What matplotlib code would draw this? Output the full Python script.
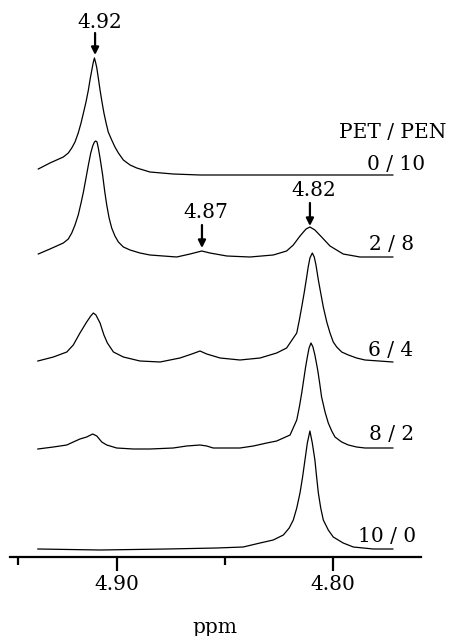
import matplotlib
matplotlib.use('Agg')
import matplotlib.pyplot as plt # Графики

plt.rcParams['font.family'] = ['DejaVu Serif']

# Подписи спектров (сверху вниз) и сдвиги базовых линий
labels = ['0 / 10', '2 / 8', '6 / 4', '8 / 2', '10 / 0']
offsets = [374, 292, 187, 101, 0]

# Спектры: ppm и интенсивность
ppm_0_10 = [4.9363, 4.9309, 4.9247, 4.9224, 4.9208, 4.9193, 4.9178, 4.9165, 4.9154, 4.9142,
            4.9131, 4.9122, 4.9115, 4.9109, 4.9103, 4.9097, 4.9092, 4.9085, 4.9077, 4.9068,
            4.9059, 4.9049, 4.9039, 4.9023, 4.9008, 4.8992, 4.8969, 4.8938, 4.8907, 4.8846,
            4.8738, 4.8614, 4.8383, 4.8151, 4.7721]
int_0_10 = [6, 12, 18, 22, 27, 33, 42, 52, 62, 73,
            85, 97, 105, 112, 117, 112, 107, 97, 85, 73,
            62, 52, 43, 35, 28, 22, 15, 10, 7, 3,
            1, 0, 0, 0, 0]

ppm_2_8 = [4.9363, 4.9309, 4.9247, 4.9224, 4.9208, 4.9193, 4.9178, 4.9165, 4.9154, 4.9142,
           4.9131, 4.9120, 4.9111, 4.9103, 4.9097, 4.9091, 4.9085, 4.9077, 4.9065, 4.9055,
           4.9046, 4.9035, 4.9023, 4.9008, 4.8992, 4.8969, 4.8938, 4.8892, 4.8846, 4.8722,
           4.8660, 4.8606, 4.8568, 4.8490, 4.8383, 4.8275, 4.8213, 4.8182, 4.8151, 4.8123,
           4.8105, 4.8082, 4.8051, 4.8012, 4.7951, 4.7873, 4.7721]
int_2_8 = [3, 8, 14, 18, 24, 32, 42, 54, 65, 79,
           92, 104, 111, 115, 116, 115, 109, 99, 82, 65,
           52, 39, 29, 21, 15, 10, 7, 4, 2, 0,
           3, 6, 4, 1, 0, 2, 6, 12, 21, 28,
           30, 27, 20, 11, 3, 0, 0]

ppm_6_4 = [4.9365, 4.9293, 4.9231, 4.9201, 4.9170, 4.9139, 4.9120, 4.9108, 4.9096, 4.9077,
           4.9059, 4.9043, 4.9015, 4.8969, 4.8892, 4.8799, 4.8707, 4.8652, 4.8614, 4.8583,
           4.8521, 4.8429, 4.8336, 4.8259, 4.8213, 4.8166, 4.8154, 4.8143, 4.8131, 4.8120,
           4.8113, 4.8105, 4.8094, 4.8085, 4.8077, 4.8066, 4.8055, 4.8043, 4.8027, 4.8012,
           4.7997, 4.7981, 4.7958, 4.7927, 4.7889, 4.7850, 4.7721]
int_6_4 = [1, 5, 10, 17, 29, 40, 46, 49, 47, 39,
           27, 19, 10, 5, 1, 0, 4, 8, 11, 8,
           4, 2, 4, 9, 14, 29, 42, 55, 70, 85,
           95, 104, 109, 105, 97, 82, 69, 55, 40, 29,
           20, 15, 10, 7, 4, 2, 0]

ppm_8_2 = [4.9365, 4.9293, 4.9231, 4.9201, 4.9170, 4.9139, 4.9111, 4.9092, 4.9069, 4.9046,
           4.9000, 4.8923, 4.8846, 4.8738, 4.8676, 4.8614, 4.8583, 4.8553, 4.8490, 4.8429,
           4.8367, 4.8305, 4.8259, 4.8228, 4.8197, 4.8166, 4.8154, 4.8143, 4.8134, 4.8125,
           4.8117, 4.8109, 4.8100, 4.8091, 4.8082, 4.8069, 4.8060, 4.8051, 4.8035, 4.8020,
           4.8004, 4.7989, 4.7958, 4.7927, 4.7889, 4.7850, 4.7721]
int_8_2 = [-1, 1, 3, 6, 9, 11, 14, 12, 6, 3,
           0, -1, -1, 0, 2, 3, 2, 0, 0, 0,
           2, 5, 7, 10, 13, 28, 41, 55, 68, 81,
           91, 100, 105, 101, 93, 78, 65, 51, 36, 25,
           17, 11, 6, 3, 1, 0, 0]

ppm_10_0 = [4.9365, 4.9077, 4.8768, 4.8537, 4.8414, 4.8336, 4.8275, 4.8228, 4.8201, 4.8182,
            4.8166, 4.8151, 4.8139, 4.8128, 4.8117, 4.8105, 4.8094, 4.8082, 4.8074, 4.8066,
            4.8055, 4.8043, 4.8020, 4.7997, 4.7951, 4.7904, 4.7812, 4.7721]
int_10_0 = [0, -1, 0, 1, 2, 6, 9, 14, 21, 29,
            41, 56, 72, 89, 106, 118, 106, 89, 72, 56,
            41, 29, 19, 12, 6, 2, 0, 0]

spectra_ppm = [ppm_0_10, ppm_2_8, ppm_6_4, ppm_8_2, ppm_10_0]
spectra_int = [int_0_10, int_2_8, int_6_4, int_8_2, int_10_0]

# Стрелки с отметками пиков
peak_names = ['4.92', '4.87', '4.82']
peak_ppm = [4.9100, 4.8605, 4.8105]


fig = plt.figure(figsize=(4.49, 6.36), dpi=100)
ax = fig.add_axes([10 / 449, 79 / 636, 410.7 / 449, 557 / 636])

for x, y, off in zip(spectra_ppm, spectra_int, offsets):
    ax.plot(x, [v + off for v in y], color='black', lw=0.9)

# Подписи спектров справа
label_x = [4.7707, 4.7725, 4.7730, 4.7725, 4.7748]
label_y = [385, 304, 199, 115, 12]
for lab, lx, ly in zip(labels, label_x, label_y):
    ax.text(lx, ly, lab, ha='center', va='center', fontsize=14.5)
ax.text(4.7723, 416, 'PET / PEN', ha='center', va='center', fontsize=14.5)

# Стрелки (хвост, кончик, текст)
arrow_tail = [516, 324, 346]
arrow_tip = [494, 301, 323]
text_y = [527, 336, 358]
for name, px, t0, t1, ty in zip(peak_names, peak_ppm, arrow_tail, arrow_tip, text_y):
    ax.annotate('', xy=(px, t1), xytext=(px, t0),
                arrowprops=dict(arrowstyle='-|>', color='black', lw=1.6,
                                mutation_scale=11, shrinkA=0, shrinkB=0))
    ax.text(px - 0.0020, ty, name, ha='center', va='center', fontsize=14.5)

ax.set_xlim(4.9494, 4.7592)
ax.set_ylim(-8, 549)

# Оси
ax.spines['top'].set_visible(False)
ax.spines['right'].set_visible(False)
ax.spines['left'].set_visible(False)
ax.spines['bottom'].set_linewidth(1.6)
ax.set_yticks([])
ax.set_xticks([4.90, 4.80])
ax.set_xticklabels(['4.90', '4.80'], fontsize=14.5)
ax.set_xticks([4.9455, 4.85], minor=True)
ax.tick_params(axis='x', which='major', direction='out', length=10, width=1.6, pad=3)
ax.tick_params(axis='x', which='minor', direction='out', length=6, width=1.6)
ax.set_xlabel('ppm', fontsize=14.5, labelpad=17)

plt.savefig('out.png', dpi=100)
plt.close()
